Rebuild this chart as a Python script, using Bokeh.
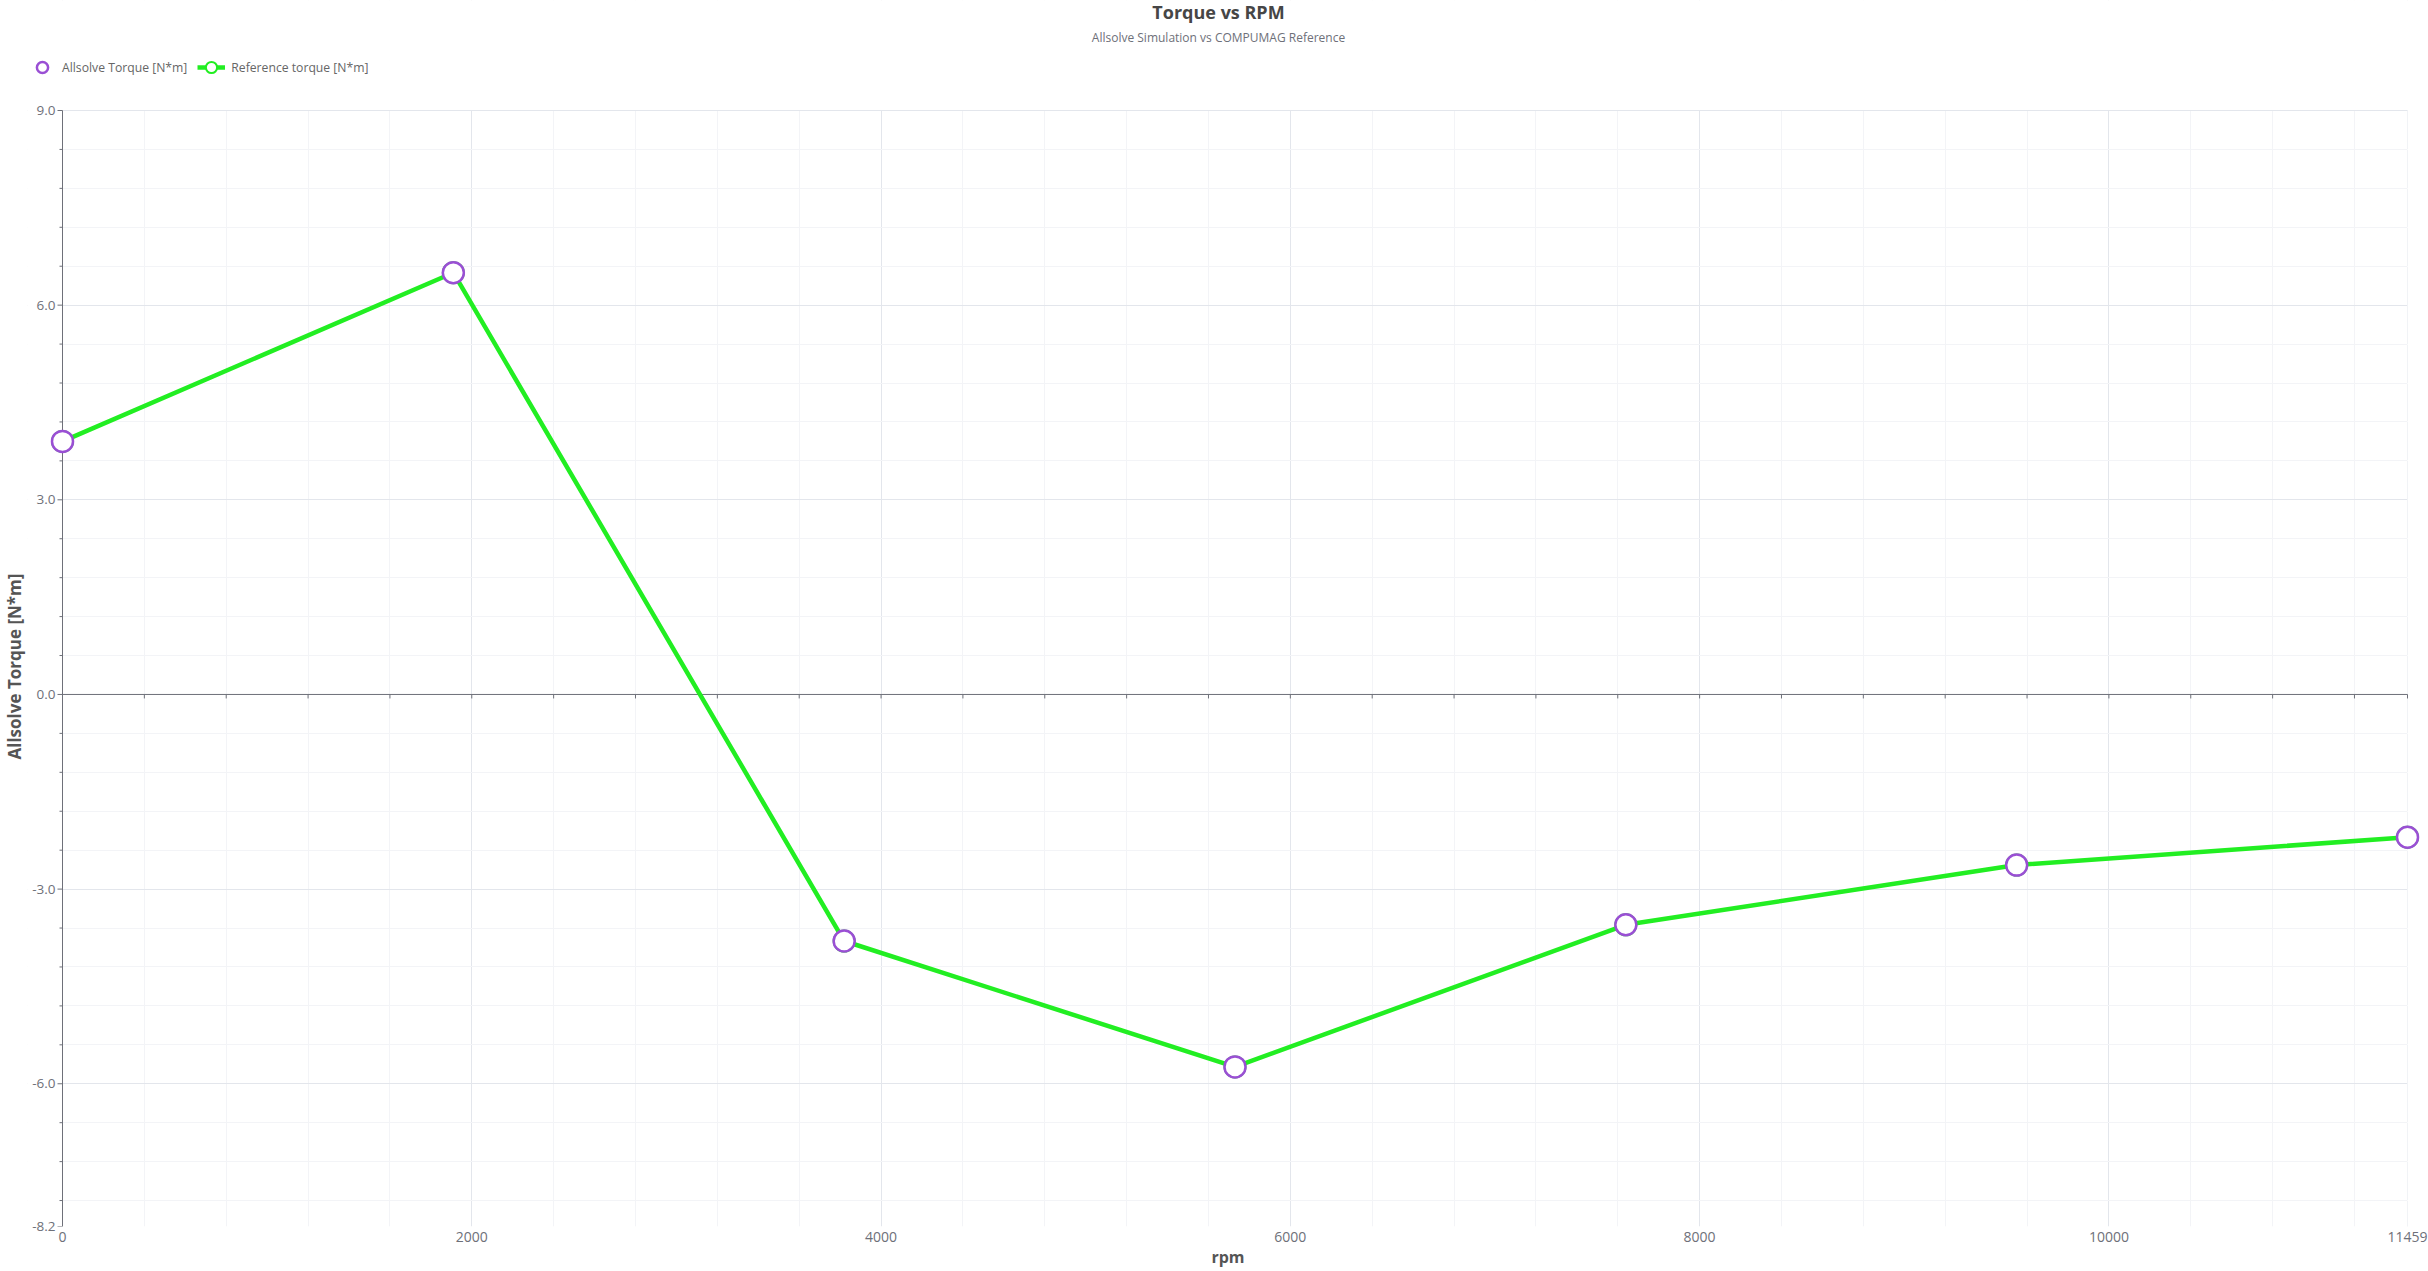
from bokeh.plotting import figure
from bokeh.models import (FixedTicker, PrintfTickFormatter, Range1d, Title, Label,
                          Legend, LegendItem)
from bokeh.embed import file_html
from bokeh.resources import INLINE

# ---------------- data ----------------
rpm = [0, 1909.86, 3819.72, 5729.58, 7639.44, 9549.30, 11459.16]
allsolve_torque = [3.90, 6.50, -3.80, -5.74, -3.55, -2.63, -2.20]
reference_torque = [3.90, 6.50, -3.80, -5.74, -3.55, -2.63, -2.20]

x_major = [0, 2000, 4000, 6000, 8000, 10000, 11459.16]
x_minor = [400, 800, 1200, 1600, 2400, 2800, 3200, 3600, 4400, 4800, 5200, 5600,
           6400, 6800, 7200, 7600, 8400, 8800, 9200, 9600, 10400, 10800, 11200]
y_major = [-8.2, -6.0, -3.0, 0.0, 3.0, 6.0, 9.0]
y_minor = [-7.8, -7.2, -6.6, -5.4, -4.8, -4.2, -3.6, -2.4, -1.8, -1.2, -0.6,
           0.6, 1.2, 1.8, 2.4, 3.6, 4.2, 4.8, 5.4, 6.6, 7.2, 7.8, 8.4]

title_text = "Torque vs RPM"
subtitle_text = "Allsolve Simulation vs COMPUMAG Reference"
x_label = "rpm"
y_label = "Allsolve Torque [N*m]"
series_names = ["Allsolve Torque [N*m]", "Reference torque [N*m]"]

x_min, x_max = 0, 11459.16
y_min, y_max = -8.2, 9.0

# ---------------- style / layout ----------------
FONT = "Open Sans"
PURPLE = "#9a4fd4"
GREEN = "#22ee22"
AXIS = "#6e7079"
GRID = "#e3e6ec"
MINOR_GRID = "#f3f4f7"

FRAME_LEFT = 27
AXIS_PX_X, AXIS_PX_Y = 2345, 1116     # pixel lengths of the two axes
PAD_L, PAD_R, PAD_T = 62 - FRAME_LEFT, 21, 110
kx = (x_max - x_min) / AXIS_PX_X
ky = (y_max - y_min) / AXIS_PX_Y
x_lo, x_hi = x_min - PAD_L * kx, x_max + PAD_R * kx
y_hi = y_max + PAD_T * ky

p = figure(width=2428, height=1271, output_backend="svg", toolbar_location=None,
           x_range=Range1d(x_lo, x_hi), y_range=Range1d(y_min, y_hi),
           min_border_left=FRAME_LEFT, min_border_right=0, min_border_top=0,
           min_border_bottom=45, background_fill_color="white",
           border_fill_color="white")
p.outline_line_color = None

# x axis (labels only; the axis line sits on zero)
p.xaxis.ticker = FixedTicker(ticks=x_major, minor_ticks=x_minor)
p.xaxis.formatter = PrintfTickFormatter(format="%d")
p.xaxis.axis_line_color = None
p.xaxis.major_tick_line_color = None
p.xaxis.minor_tick_line_color = None
p.xaxis.major_tick_out = 0
p.xaxis.minor_tick_out = 0
p.xaxis.major_label_standoff = 5
p.xaxis.major_label_text_font = FONT
p.xaxis.major_label_text_font_size = "14px"
p.xaxis.major_label_text_color = AXIS
p.xaxis.axis_label = x_label
p.xaxis.axis_label_standoff = 1
p.xaxis.axis_label_text_font = FONT
p.xaxis.axis_label_text_font_size = "16px"
p.xaxis.axis_label_text_font_style = "bold"
p.xaxis.axis_label_text_color = "#555555"

# y axis: labels from Bokeh, pulled in next to the axis line at x = 0
p.yaxis.ticker = FixedTicker(ticks=y_major, minor_ticks=y_minor)
p.yaxis.formatter = PrintfTickFormatter(format="%.1f")
p.yaxis.axis_line_color = None
p.yaxis.major_tick_line_color = None
p.yaxis.minor_tick_line_color = None
p.yaxis.major_tick_out = 0
p.yaxis.minor_tick_out = 0
p.yaxis.major_label_standoff = -(PAD_L - 7)
p.yaxis.major_label_text_font = FONT
p.yaxis.major_label_text_font_size = "13.5px"
p.yaxis.major_label_text_color = AXIS

# grids
p.xgrid.grid_line_color = GRID
p.ygrid.grid_line_color = GRID
p.xgrid.minor_grid_line_color = MINOR_GRID
p.ygrid.minor_grid_line_color = MINOR_GRID

# white margins around the axis box
p.quad(left=[x_lo, x_max, x_lo], right=[x_min, x_hi, x_hi],
       bottom=[y_min, y_min, y_max], top=[y_hi, y_hi, y_hi],
       fill_color="white", line_color=None)
p.segment(x0=[x_min], y0=[y_max], x1=[x_max], y1=[y_max], line_color=GRID, line_width=1)

# y axis line and ticks at x = 0
p.segment(x0=[x_min], y0=[y_min], x1=[x_min], y1=[y_max], line_color=AXIS, line_width=1)
p.segment(x0=[x_min] * len(y_major), y0=y_major, x1=[x_min - 5 * kx] * len(y_major),
          y1=y_major, line_color=AXIS, line_width=1)
p.segment(x0=[x_min] * len(y_minor), y0=y_minor, x1=[x_min - 3 * kx] * len(y_minor),
          y1=y_minor, line_color=AXIS, line_width=1)

# x axis line on zero, with its ticks
p.segment(x0=[x_min], y0=[0], x1=[x_max], y1=[0], line_color=AXIS, line_width=1)
zero_ticks = [t for t in x_major + x_minor if t > x_min]
p.segment(x0=zero_ticks, y0=[0] * len(zero_ticks), x1=zero_ticks,
          y1=[-4 * ky] * len(zero_ticks), line_color=AXIS, line_width=1)

# series
ref_line = p.line(rpm, reference_torque, line_color=GREEN, line_width=4.5)
ref_pts = p.scatter(rpm, reference_torque, size=21, marker="circle",
                    fill_color="white", line_color=GREEN, line_width=2)
all_pts = p.scatter(rpm, allsolve_torque, size=21, marker="circle",
                    fill_color="white", line_color=PURPLE, line_width=2.5)

# legend
legend = Legend(items=[LegendItem(label=series_names[0], renderers=[all_pts]),
                       LegendItem(label=series_names[1], renderers=[ref_line, ref_pts])],
                location=(1, 1145), orientation="horizontal",
                border_line_color=None, background_fill_alpha=0,
                glyph_width=28, glyph_height=28, label_standoff=6, spacing=10,
                padding=0, margin=0, label_text_font=FONT,
                label_text_font_size="12.2px", label_text_color="#666666")
p.add_layout(legend)

# title and subtitle
title_x = 1218 - FRAME_LEFT
p.add_layout(Label(x=title_x, y=y_max, x_units="screen", y_units="data", y_offset=99,
                   text=title_text, text_align="center", text_baseline="middle",
                   text_font=FONT, text_font_size="18px", text_font_style="bold",
                   text_color="#464646"))
p.add_layout(Label(x=title_x, y=y_max, x_units="screen", y_units="data", y_offset=73,
                   text=subtitle_text, text_align="center", text_baseline="middle",
                   text_font=FONT, text_font_size="12px", text_color=AXIS))

# y axis title on the left, centred on the axis box
p.add_layout(Title(text=y_label, align="left", offset=467, standoff=2,
                   vertical_align="middle",
                   text_font=FONT, text_font_size="17px", text_font_style="bold",
                   text_color="#555555"), "left")

open("out.html", "w").write(file_html(p, INLINE))
